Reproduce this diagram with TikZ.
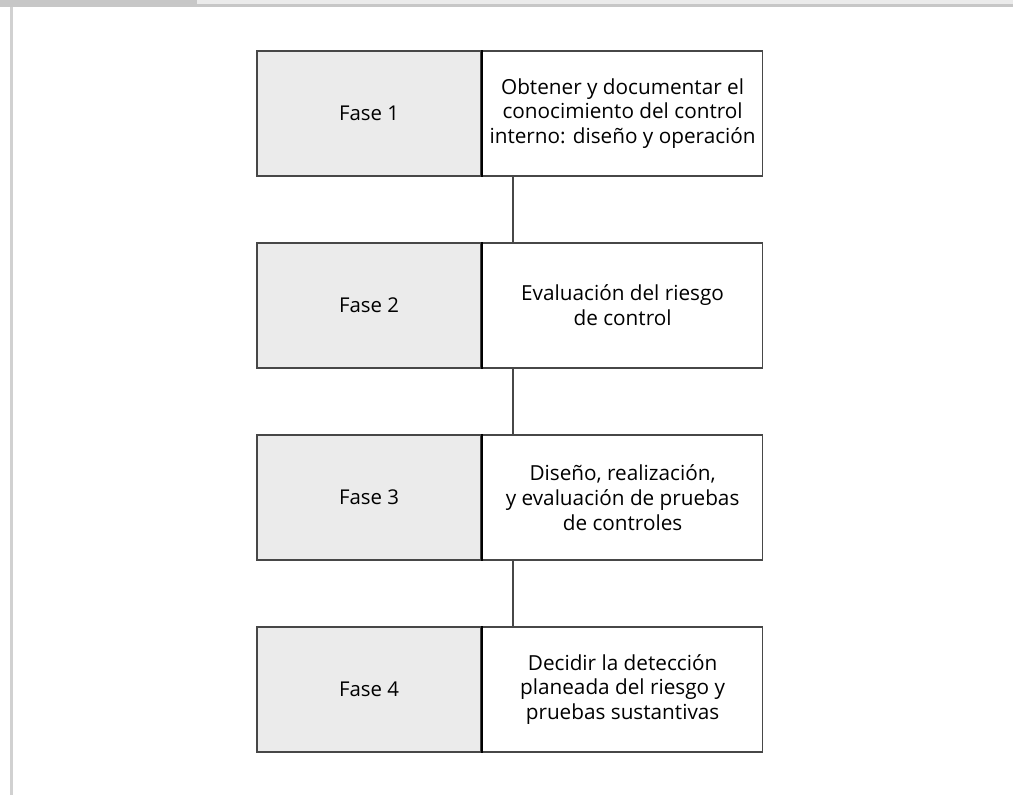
\documentclass[tikz,border=0pt]{standalone}
\usepackage{fontspec}
\setmainfont{Open Sans}
\usetikzlibrary{positioning,calc}

\begin{document}
\begin{tikzpicture}[
  x=1cm,y=1cm,
  fasebox/.style={draw=black!72, fill=black!8, line width=0.9pt, minimum width=4.48cm, minimum height=2.5cm, inner sep=0pt, font=\fontsize{11.6}{14}\selectfont},
  descbox/.style={draw=black!72, fill=white, line width=0.9pt, minimum width=5.6cm, minimum height=2.5cm, inner sep=0pt, align=center, font=\fontsize{11.8}{14.1}\selectfont},
  divider/.style={draw=black, line width=1.2pt},
  link/.style={draw=black!72, line width=0.9pt}
]
  \useasboundingbox (0,0) rectangle (20.26,15.9);

  % page frame
  \fill[black!22] (0,15.76) rectangle (3.94,15.9);
  \fill[black!8] (3.94,15.82) rectangle (20.26,15.9);
  \fill[black!22] (3.94,15.76) rectangle (20.26,15.82);
  \fill[black!18] (0.2,0) rectangle (0.26,15.76);

  \node[fasebox] (f1) at (7.38,13.63) {Fase 1};
  \node[descbox, right=0pt of f1] (d1) {Obtener y documentar el\\conocimiento del control\\interno: diseño y operación};

  \node[fasebox] (f2) at (7.38,9.79) {Fase 2};
  \node[descbox, right=0pt of f2] (d2) {Evaluación del riesgo\\de control};

  \node[fasebox] (f3) at (7.38,5.95) {Fase 3};
  \node[descbox, right=0pt of f3] (d3) {Diseño, realización,\\y evaluación de pruebas\\de controles};

  \node[fasebox] (f4) at (7.38,2.11) {Fase 4};
  \node[descbox, right=0pt of f4] (d4) {Decidir la detección\\planeada del riesgo y\\pruebas sustantivas};

  \draw[divider] (d1.north west) -- (d1.south west);
  \draw[divider] (d2.north west) -- (d2.south west);
  \draw[divider] (d3.north west) -- (d3.south west);
  \draw[divider] (d4.north west) -- (d4.south west);

  \draw[link] ($(d1.south west)!0.11!(d1.south east)$) -- ($(d2.north west)!0.11!(d2.north east)$);
  \draw[link] ($(d2.south west)!0.11!(d2.south east)$) -- ($(d3.north west)!0.11!(d3.north east)$);
  \draw[link] ($(d3.south west)!0.11!(d3.south east)$) -- ($(d4.north west)!0.11!(d4.north east)$);
\end{tikzpicture}
\end{document}
